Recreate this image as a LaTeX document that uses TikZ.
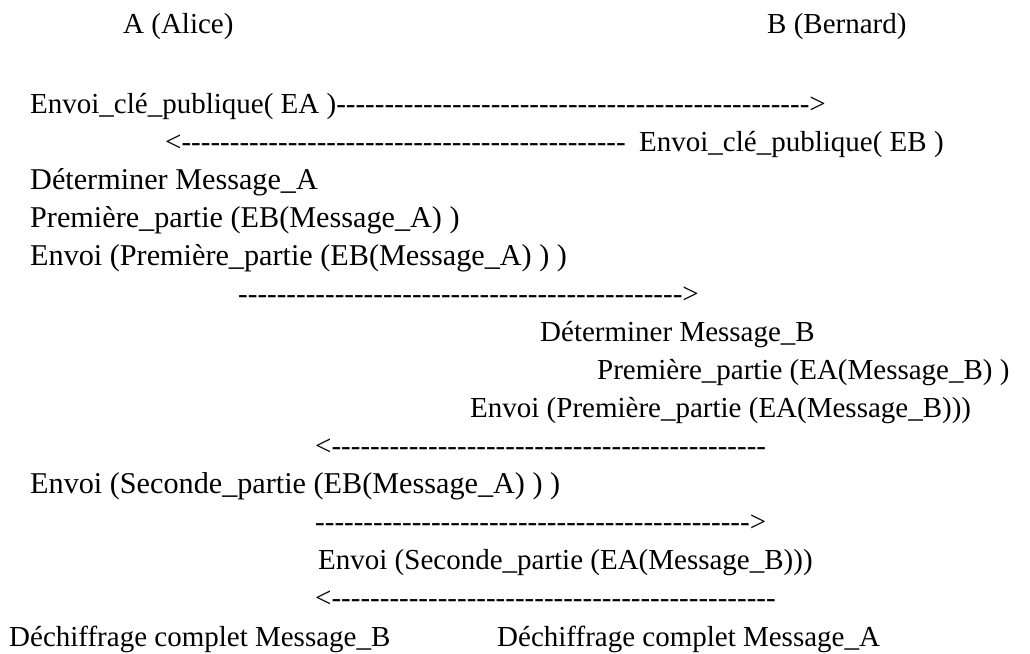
\documentclass[tikz,border=0pt]{standalone}
\usepackage{fontspec}
\setmainfont{Liberation Serif}

% une suite de tirets sans ligature
\newcommand\tirets[1]{\foreach \k in {1,...,#1}{-\kern0pt}}

\begin{document}
\begin{tikzpicture}[
    x=1pt, y=-1pt,
    ligne/.style={anchor=base west, inner sep=0pt, font=\fontsize{29}{34}\selectfont},
    lignea/.style={ligne, font=\fontsize{30.2}{35}\selectfont}
]
\useasboundingbox (0,0) rectangle (1030,653);

\node[ligne] (alice) at (123,33) {A (Alice)};
\node[ligne] (bernard) at (767,33) {B (Bernard)};

\node[ligne] (clea) at (30,113) {Envoi\_clé\_publique( EA )\tirets{49}>};
\node[ligne] (retour1) at (165,151) {<\tirets{46}};
\node[ligne] (cleb) at (639,151) {Envoi\_clé\_publique( EB )};

\node[lignea] (detA) at (30,189) {Déterminer Message\_A};
\node[lignea] (premA) at (30,227) {Première\_partie (EB(Message\_A) )};
\node[lignea] (envA) at (30,265) {Envoi (Première\_partie (EB(Message\_A) ) )};
\node[ligne] (aller1) at (238,303) {\tirets{46}>};

\node[ligne] (detB) at (540,341) {Déterminer Message\_B};
\node[ligne] (premB) at (597,379) {Première\_partie (EA(Message\_B) )};
\node[ligne] (envB) at (470,417) {Envoi (Première\_partie (EA(Message\_B)))};
\node[ligne] (retour2) at (315,455) {<\tirets{45}};

\node[lignea] (secA) at (30,493) {Envoi (Seconde\_partie (EB(Message\_A) ) )};
\node[ligne] (aller2) at (315,531) {\tirets{45}>};
\node[ligne] (secB) at (318,569) {Envoi (Seconde\_partie (EA(Message\_B)))};
\node[ligne] (retour3) at (315,607) {<\tirets{46}};

\node[ligne] (finB) at (9,646) {Déchiffrage complet Message\_B};
\node[ligne] (finA) at (497,646) {Déchiffrage complet Message\_A};
\end{tikzpicture}
\end{document}
